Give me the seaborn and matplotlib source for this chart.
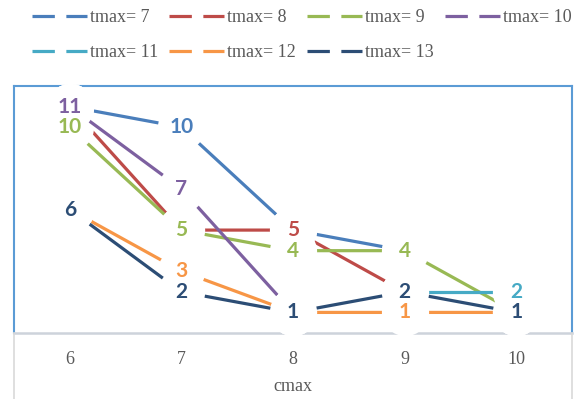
import numpy as np
import pandas as pd
import seaborn as sns
import matplotlib.pyplot as plt
from matplotlib.lines import Line2D

# data (nan = no point)
cmax = [6, 7, 8, 9, 10]
series_names = ["tmax= 7", "tmax= 8", "tmax= 9", "tmax= 10", "tmax= 11", "tmax= 12", "tmax= 13"]
tmax7 = [11, 10, 5, 4, np.nan]
tmax8 = [11, 5, 5, 2, np.nan]
tmax9 = [10, 5, 4, 4, 1]
tmax10 = [11, 7, 1, np.nan, np.nan]
tmax11 = [np.nan, np.nan, np.nan, 2, 2]
tmax12 = [6, 3, 1, 1, 1]
tmax13 = [6, 2, 1, 2, 1]
series_values = [tmax7, tmax8, tmax9, tmax10, tmax11, tmax12, tmax13]
colors = ["#4A7EBB", "#BE4B48", "#98B954", "#7D60A0", "#46AAC5", "#F79646", "#2C4D75"]

rows = []
for name, vals in zip(series_names, series_values):
    for x, v in zip(cmax, vals):
        rows.append({"cmax": x, "value": v, "tmax": name})
df = pd.DataFrame(rows).dropna()

sns.set_style("white")
plt.rcParams["font.family"] = ["Liberation Serif", "DejaVu Serif"]

fig = plt.figure(figsize=(5.8, 3.99), dpi=100)
ax = fig.add_axes([14 / 580, 66 / 399, 558 / 580, 247 / 399])

palette = dict(zip(series_names, colors))
# white circle markers hide the line ends around each label, like the original
sns.lineplot(data=df, x="cmax", y="value", hue="tmax", hue_order=series_names,
             palette=palette, marker="o", markersize=34, markerfacecolor="white",
             markeredgewidth=0, linewidth=2.3, clip_on=False, zorder=3,
             legend=False, errorbar=None, ax=ax)

# data labels: the last series at a given position is the one shown on top
for i, x in enumerate(cmax):
    shown = {}
    for k, vals in enumerate(series_values):
        if not np.isnan(vals[i]):
            shown[vals[i]] = k
    for v, k in shown.items():
        ax.text(x, v, f"{int(v)}", color=colors[k], ha="center", va="center",
                fontsize=15, fontweight="bold", family="Lato", zorder=6)

ax.set_xlim(5.5, 10.5)
ax.set_ylim(0, 12)
ax.set_yticks([])
ax.set_xticks(cmax)
ax.set_xticklabels([str(c) for c in cmax])
ax.tick_params(axis="x", length=0, pad=13, labelsize=13, labelcolor="#595959")
ax.set_xlabel("cmax", fontsize=13, color="#595959", labelpad=7)
ax.set_ylabel("")

for side in ["top", "left", "right"]:
    ax.spines[side].set_color("#5B9BD5")
    ax.spines[side].set_linewidth(1.5)
ax.spines["bottom"].set_color("#CDD3DB")
ax.spines["bottom"].set_linewidth(1.8)

# light grey frame lines under the plot area
for xf in [14 / 580, 572 / 580]:
    fig.add_artist(Line2D([xf, xf], [0, 66 / 399], transform=fig.transFigure,
                          color="#D9D9D9", lw=1.2))

# legend is filled column by column, so reorder to get the row layout
handles = [Line2D([], [], color=c, lw=2.3, dashes=(7, 3.6)) for c in colors]
order = [0, 4, 1, 5, 2, 6, 3]
fig.legend([handles[i] for i in order], [series_names[i] for i in order],
           loc="upper left", bbox_to_anchor=(32 / 580, 1 - 9 / 399), ncol=4,
           frameon=False, fontsize=13, labelcolor="#595959", handlelength=3.05,
           handletextpad=0.17, columnspacing=0.6, labelspacing=1.0,
           borderpad=0, borderaxespad=0)

fig.savefig("out.png", dpi=100)
